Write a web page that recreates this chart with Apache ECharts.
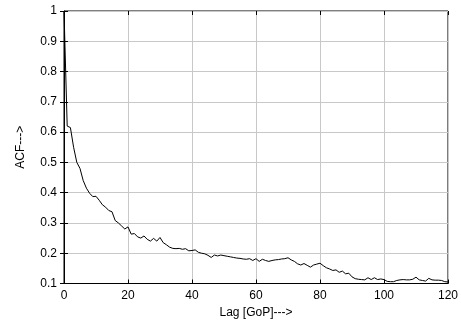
<!DOCTYPE html>
<html><head><meta charset="utf-8">
<script src="https://cdn.jsdelivr.net/npm/echarts@6/dist/echarts.min.js"></script>
<style>html,body{margin:0;padding:0;background:#fff}#c{width:461px;height:328px}</style>
</head><body><div id="c"></div>
<script>
const lags = Array.from({length:121},(_,i)=>i);
const acf = [1.0,0.62,0.615,0.55,0.50,0.48,0.44,0.415,0.398,0.387,0.388,0.375,0.36,0.352,0.341,0.337,0.308,0.30,0.29,0.28,
0.287,0.263,0.265,0.254,0.25,0.257,0.246,0.24,0.249,0.24,0.252,0.235,0.228,0.22,0.216,0.215,0.216,0.213,0.215,0.208,
0.209,0.211,0.203,0.2,0.198,0.193,0.186,0.194,0.191,0.194,0.192,0.19,0.188,0.186,0.184,0.183,0.181,0.180,0.182,0.176,
0.182,0.173,0.180,0.176,0.173,0.176,0.178,0.179,0.181,0.182,0.185,0.178,0.173,0.165,0.161,0.166,0.16,0.154,0.161,0.164,
0.167,0.159,0.152,0.148,0.143,0.145,0.137,0.141,0.132,0.134,0.122,0.116,0.114,0.113,0.112,0.119,0.113,0.119,0.113,0.115,
0.113,0.107,0.106,0.106,0.11,0.112,0.113,0.112,0.112,0.114,0.121,0.112,0.11,0.108,0.117,0.112,0.111,0.111,0.11,0.106,0.105];
const xName = 'Lag [GoP]--->';
const yName = 'ACF--->';
const font = 'Liberation Sans, Arial, sans-serif';
const chart = echarts.init(document.getElementById('c'));
const tick = {show:true, inside:true, length:4, lineStyle:{color:'#000'}};
chart.setOption({
  animation:false,
  grid:{left:64,right:11,top:11,bottom:44.5,show:true,borderColor:'#000',borderWidth:1},
  xAxis:[{type:'value',min:0,max:120,interval:20,position:'bottom',
    name:xName,nameLocation:'middle',nameGap:22,nameTextStyle:{color:'#000',fontSize:12,fontFamily:font},
    axisLine:{show:true,lineStyle:{color:'#000'}},axisTick:tick,
    axisLabel:{color:'#000',fontSize:12,fontFamily:font,margin:6},
    splitLine:{show:true,lineStyle:{color:'#c8c8c8',width:1}}},
   {type:'value',min:0,max:120,interval:20,position:'top',axisLine:{show:false},axisTick:tick,axisLabel:{show:false},splitLine:{show:false}}],
  yAxis:[{type:'value',min:0.1,max:1,interval:0.1,position:'left',
    name:yName,nameLocation:'middle',nameGap:37,nameTextStyle:{color:'#000',fontSize:12,fontFamily:font},
    axisLine:{show:true,lineStyle:{color:'#000'}},axisTick:tick,
    axisLabel:{color:'#000',fontSize:12,fontFamily:font,margin:7,formatter:v=>String(+v.toFixed(1))},
    splitLine:{show:true,lineStyle:{color:'#c8c8c8',width:1}}},
   {type:'value',min:0.1,max:1,interval:0.1,position:'right',axisLine:{show:false},axisTick:tick,axisLabel:{show:false},splitLine:{show:false}}],
  series:[{type:'line',data:lags.map((l,i)=>[l,acf[i]]),showSymbol:false,symbol:'none',
    lineStyle:{color:'#000',width:1},z:5}]
});
</script></body></html>
